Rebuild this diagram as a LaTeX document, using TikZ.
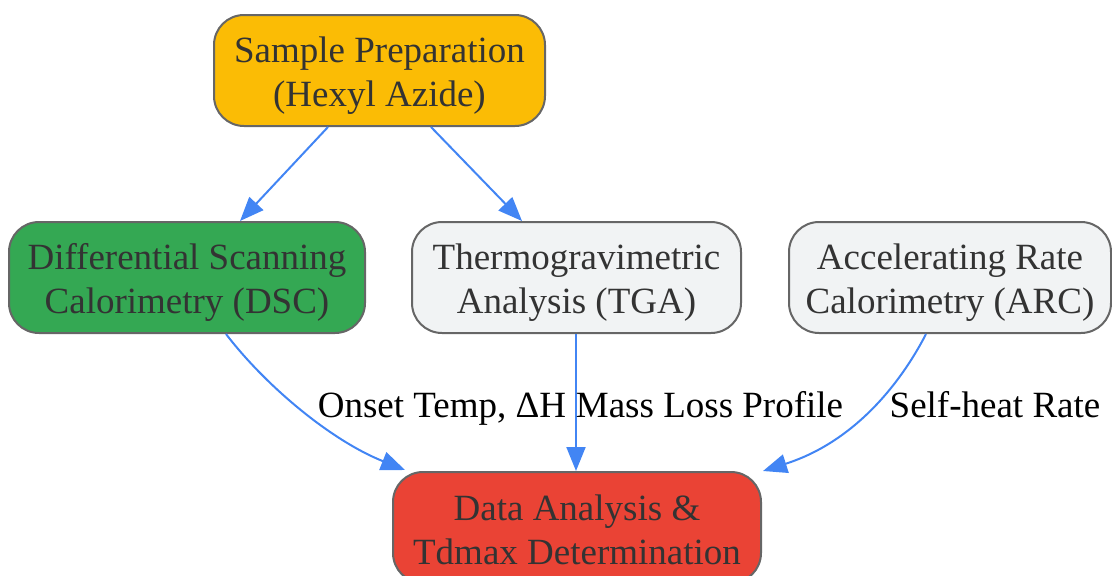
\documentclass[tikz,border=0pt]{standalone}
\usepackage{fontspec}
\setmainfont{Liberation Serif}
\usetikzlibrary{arrows.meta}
\definecolor{amber}{HTML}{FBBC05}
\definecolor{ggreen}{HTML}{34A853}
\definecolor{glight}{HTML}{F1F3F4}
\definecolor{gred}{HTML}{EA4335}
\definecolor{gblue}{HTML}{4285F4}
\definecolor{border}{HTML}{666666}
\definecolor{txt}{HTML}{333333}
\tikzset{
  box/.style={draw=border, line width=2pt, rounded corners=30pt, minimum height=111pt, inner sep=0pt},
  btext/.style={align=center, text=txt, inner sep=0pt, font=\fontsize{37}{44}\selectfont},
  conn/.style={draw=gblue, line width=2pt, -{Triangle[length=24pt,width=19pt]}},
  elabel/.style={text=black, font=\fontsize{37}{44}\selectfont, inner sep=0pt, anchor=base}
}
\begin{document}
\begin{tikzpicture}[x=1pt,y=-1pt]
\useasboundingbox (0,0) rectangle (1112,576);
\clip (0,0) rectangle (1112,576);
\node[box, fill=amber, minimum width=331pt] (prep) at (379.5,70.5) {};
\node[btext] (prept) at ([yshift=-5pt]prep.center) {Sample Preparation\\(Hexyl Azide)};
\node[box, fill=ggreen, minimum width=356pt] (dsc) at (187,277.5) {};
\node[btext] (dsct) at ([yshift=-5pt]dsc.center) {Differential Scanning\\Calorimetry (DSC)};
\node[box, fill=glight, minimum width=329pt] (tga) at (576.5,277.5) {};
\node[btext] (tgat) at ([yshift=-5pt]tga.center) {Thermogravimetric\\Analysis (TGA)};
\node[box, fill=glight, minimum width=322pt] (arc) at (950,277.5) {};
\node[btext] (arct) at ([yshift=-5pt]arc.center) {Accelerating Rate\\Calorimetry (ARC)};
\node[box, fill=gred, minimum width=368pt] (data) at (577,527.5) {};
\node[btext] (datat) at ([yshift=-2.5pt]data.center) {Data Analysis \&\\Tdmax Determination};

\draw[conn] ([xshift=-51.5pt]prep.south) -- ([xshift=53pt]dsc.north);
\draw[conn] ([xshift=51.5pt]prep.south) -- ([xshift=-54.5pt]tga.north);
\draw[conn] ([xshift=39pt]dsc.south) .. controls (265,385) and (330,440) .. ([xshift=-172pt,yshift=1pt]data.north);
\draw[conn] ([xshift=-0.5pt]tga.south) -- ([xshift=-1pt]data.north);
\draw[conn] ([xshift=-24pt]arc.south) .. controls (905,375) and (860,440) .. ([xshift=186pt]data.north);

\node[elabel] (l1) at (442,417) {Onset Temp, ΔH};
\node[elabel] (l2) at (709.5,417) {Mass Loss Profile};
\node[elabel] (l3) at (995,417) {Self-heat Rate};
\end{tikzpicture}
\end{document}
